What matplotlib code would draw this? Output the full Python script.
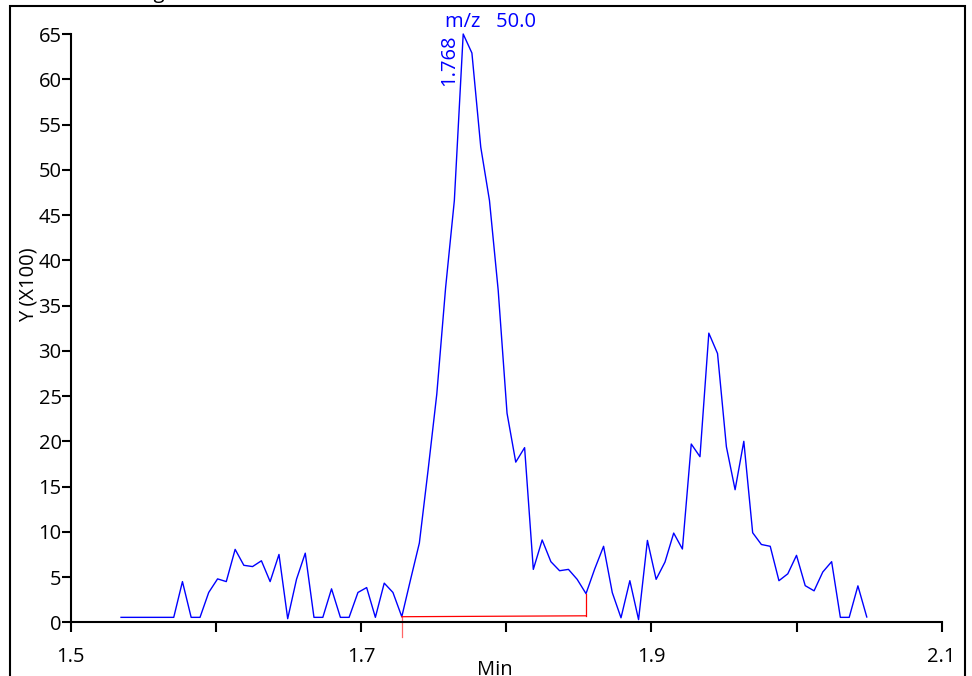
import matplotlib
matplotlib.use("Agg")
import matplotlib.pyplot as plt
from matplotlib.patches import Rectangle

plt.rcParams["font.family"] = ["Open Sans", "DejaVu Sans"]

# retention time (min) and signal (x100 counts)
times = [
    1.5347, 1.5407, 1.5468, 1.5528, 1.5589, 1.5649, 1.5710, 1.5770, 1.5830, 1.5891,
    1.5951, 1.6012, 1.6072, 1.6133, 1.6193, 1.6253, 1.6314, 1.6374, 1.6435, 1.6495,
    1.6556, 1.6616, 1.6676, 1.6737, 1.6797, 1.6858, 1.6918, 1.6979, 1.7039, 1.7099,
    1.7160, 1.7220, 1.7281, 1.7341, 1.7402, 1.7462, 1.7522, 1.7583, 1.7643, 1.7704,
    1.7764, 1.7825, 1.7885, 1.7945, 1.8006, 1.8066, 1.8127, 1.8187, 1.8248, 1.8308,
    1.8368, 1.8429, 1.8489, 1.8550, 1.8610, 1.8671, 1.8731, 1.8791, 1.8852, 1.8912,
    1.8973, 1.9033, 1.9094, 1.9154, 1.9214, 1.9275, 1.9335, 1.9396, 1.9456, 1.9517,
    1.9577, 1.9637, 1.9698, 1.9758, 1.9819, 1.9879, 1.9940, 2.0000, 2.0060, 2.0121,
    2.0181, 2.0242, 2.0302, 2.0363, 2.0423, 2.0484,
]
signal = [
    0.55, 0.55, 0.55, 0.55, 0.55, 0.55, 0.55, 4.5, 0.55, 0.55,
    3.3, 4.8, 4.5, 8.06, 6.3, 6.16, 6.8, 4.5, 7.5, 0.4,
    4.77, 7.64, 0.55, 0.55, 3.7, 0.55, 0.55, 3.3, 3.84, 0.55,
    4.33, 3.3, 0.62, 4.7, 8.76, 16.8, 25.2, 37.0, 46.6, 65.0,
    62.9, 52.5, 46.6, 36.7, 23.1, 17.7, 19.3, 5.85, 9.1, 6.7,
    5.7, 5.85, 4.75, 3.17, 5.9, 8.4, 3.28, 0.5, 4.6, 0.3,
    9.05, 4.75, 6.66, 9.86, 8.1, 19.7, 18.3, 31.95, 29.7, 19.4,
    14.65, 20.0, 9.9, 8.6, 8.4, 4.6, 5.36, 7.4, 4.05, 3.48,
    5.56, 6.7, 0.55, 0.55, 4.03, 0.59,
]

# integration baseline: start/end sample and baseline level at each end
base_idx = [32, 53]
base_level = [0.62, 0.72]
start_drop = -1.66

peak_idx = 39
peak_label = "1.768"
mass_label = "m/z   50.0"

x_ticks = [1.5, 1.6, 1.7, 1.8, 1.9, 2.0, 2.1]
x_labels = ["1.5", "", "1.7", "", "1.9", "", "2.1"]
y_ticks = list(range(0, 70, 5))

fs = 14.5

fig = plt.figure(figsize=(9.72, 6.76), dpi=100)
ax = fig.add_axes([0.0727, 0.0794, 0.8961, 0.8703])

ax.plot(times, signal, color="#0000ff", lw=1.0, clip_on=False)

# baseline in red
t0, t1 = times[base_idx[0]], times[base_idx[1]]
ax.plot([t0, t1], base_level, color="#ff0000", lw=0.9, clip_on=False)
ax.plot([t0, t0], [base_level[0], start_drop], color="#ff0000", lw=0.9, alpha=0.6, clip_on=False)
ax.plot([t1, t1], [base_level[1], signal[base_idx[1]]], color="#ff0000", lw=0.9, clip_on=False)

ax.set_xlim(1.5, 2.1)
ax.set_ylim(0, 65)
ax.set_xticks(x_ticks)
ax.set_xticklabels(x_labels)
ax.set_yticks(y_ticks)
ax.set_yticklabels([str(v) for v in y_ticks])

for s in ["top", "right"]:
    ax.spines[s].set_visible(False)
for s in ["left", "bottom"]:
    ax.spines[s].set_linewidth(1.5)
ax.tick_params(axis="x", direction="out", length=7.5, width=1.5, pad=10, labelsize=fs)
ax.tick_params(axis="y", direction="out", length=6.5, width=1.5, pad=0, labelsize=fs)

# peak annotations
ax.text(times[peak_idx] - 0.003, signal[peak_idx], peak_label, rotation=90,
        ha="right", va="top", color="#0000ff", fontsize=fs)
ax.text(times[peak_idx] + 0.0185, signal[peak_idx] + 0.2, mass_label,
        ha="center", va="bottom", color="#0000ff", fontsize=fs)

fig.text(29 / 972, 1 - 285 / 676, "Y (X100)", rotation=90, ha="center", va="center",
         fontsize=fs)
fig.text(495 / 972, 1 - 660 / 676, "Min", ha="center", va="top", fontsize=fs)
fig.text(60 / 972, 1 + 2 / 676, "Chromatogram", ha="left", va="baseline", fontsize=fs)

# outer frame
fig.patches.append(Rectangle((10 / 972, -0.05), 955 / 972, 1.05 - 6 / 676,
                             transform=fig.transFigure, fill=False,
                             edgecolor="black", lw=1.5))

fig.savefig("out.png", dpi=100)
